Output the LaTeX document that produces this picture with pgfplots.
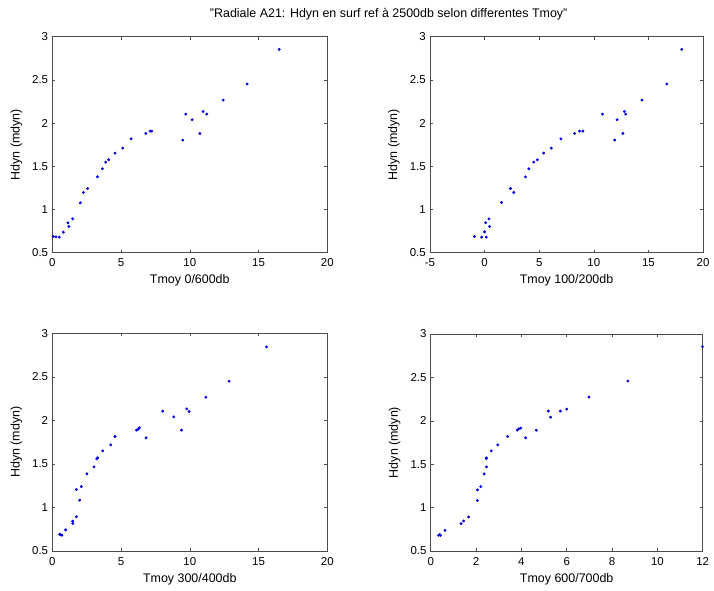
\documentclass[border=0pt]{standalone}
\usepackage{pgfplots}
\pgfplotsset{compat=1.18}
\usepackage{fontspec}
\setmainfont{Liberation Sans}
\definecolor{dotblue}{rgb}{0.05,0.05,0.75}
\pgfplotsset{
  mstyle/.style={
    scale only axis,
    anchor=south west,
    axis line style={draw=black!70, line width=0.6bp},
    tick style={draw=black!70, line width=0.5bp},
    tick align=inside,
    major tick length=3bp,
    ymin=0.5, ymax=3,
    ytick={0.5,1,...,3},
    /pgf/number format/assume math mode=true,
    ticklabel style={font=\fontsize{11.5}{12}\selectfont, inner sep=0pt},
    xticklabel style={anchor=north, yshift=-6bp},
    yticklabel style={anchor=east, xshift=-4bp},
    label style={font=\fontsize{12.5}{14}\selectfont, inner sep=0pt},
    xlabel style={at={([yshift=-22bp]axis description cs:0.5,0)}, anchor=north},
    ylabel style={at={([xshift=-30bp]axis description cs:0,0.5)}, anchor=south, rotate=0},
    ylabel={Hdyn (mdyn)},
    every axis plot/.append style={only marks, mark=*, mark size=1.25bp, draw=dotblue, fill=dotblue},
  }
}
\begin{document}
\begin{tikzpicture}
\path (0bp,0bp) rectangle (714bp,591bp);
\node[font=\fontsize{12.5}{14}\selectfont, inner sep=0pt] at (388.7bp,576.5bp) {"Radiale A21: Hdyn en surf ref à 2500db selon differentes Tmoy"};

% Panel 1
\begin{axis}[mstyle, at={(52.3bp,338.3bp)}, width=275bp, height=216bp,
  xmin=0, xmax=20, xtick={0,5,...,20}, xlabel={Tmoy 0/600db}]
\addplot coordinates {
(0.07,0.687) (0.27,0.683) (0.51,0.68) (0.8,0.737) (1.14,0.846) (1.21,0.803)
(1.48,0.892) (2.04,1.077) (2.26,1.197) (2.57,1.243) (3.28,1.378) (3.64,1.471)
(3.88,1.548) (4.10,1.575) (4.56,1.653) (5.12,1.71) (5.73,1.818) (6.80,1.880)
(7.11,1.907) (7.23,1.907) (9.49,1.803) (9.71,2.104) (10.17,2.039) (10.73,1.880)
(10.97,2.135) (11.24,2.104) (12.43,2.266) (14.17,2.452) (16.50,2.853)
};
\end{axis}

% Panel 2
\begin{axis}[mstyle, at={(430bp,338.3bp)}, width=273bp, height=216bp,
  xmin=-5, xmax=20, xtick={-5,0,...,20}, xlabel={Tmoy 100/200db}]
\addplot coordinates {
(-0.94,0.687) (-0.27,0.68) (0.15,0.68) (0,0.741) (0.09,0.846) (0.40,0.892)
(0.46,0.803) (1.55,1.081) (2.37,1.243) (2.67,1.197) (3.74,1.378) (4.05,1.471)
(4.50,1.548) (4.83,1.575) (5.41,1.653) (6.11,1.71) (6.99,1.818) (8.24,1.880)
(8.69,1.907) (9.0,1.907) (10.79,2.104) (11.91,1.803) (12.13,2.039) (12.67,1.880)
(12.80,2.135) (12.92,2.104) (14.41,2.266) (16.69,2.452) (18.05,2.853)
};
\end{axis}

% Panel 3
\begin{axis}[mstyle, at={(52.3bp,40bp)}, width=275bp, height=217.5bp,
  xmin=0, xmax=20, xtick={0,5,...,20}, xlabel={Tmoy 300/400db}]
\addplot coordinates {
(0.53,0.693) (0.62,0.685) (0.70,0.682) (0.97,0.743) (1.48,0.843) (1.50,0.816)
(1.75,0.893) (1.99,1.084) (1.75,1.207) (2.11,1.241) (2.52,1.387) (3.03,1.467)
(3.23,1.559) (3.30,1.571) (3.67,1.651) (4.25,1.720) (4.56,1.816) (6.12,1.889)
(6.24,1.900) (6.33,1.916) (6.82,1.801) (8.03,2.107) (8.83,2.042) (9.39,1.889)
(9.78,2.134) (9.95,2.103) (11.17,2.268) (12.86,2.452) (15.58,2.847)
};
\end{axis}

% Panel 4
\begin{axis}[mstyle, at={(430.7bp,40bp)}, width=272bp, height=217bp,
  xmin=0, xmax=12, xtick={0,2,...,12}, xlabel={Tmoy 600/700db}]
\addplot coordinates {
(0.35,0.681) (0.40,0.688) (0.43,0.681) (0.63,0.738) (1.34,0.815) (1.45,0.846)
(1.67,0.892) (2.06,1.081) (2.06,1.204) (2.21,1.242) (2.36,1.388) (2.46,1.469)
(2.45,1.565) (2.46,1.573) (2.67,1.654) (2.96,1.723) (3.39,1.819) (3.82,1.892)
(3.89,1.908) (3.97,1.915) (4.19,1.804) (4.66,1.892) (5.19,2.112) (5.29,2.042)
(5.72,2.112) (6.00,2.135) (6.98,2.273) (8.70,2.458) (11.99,2.854)
};
\end{axis}
\end{tikzpicture}
\end{document}
